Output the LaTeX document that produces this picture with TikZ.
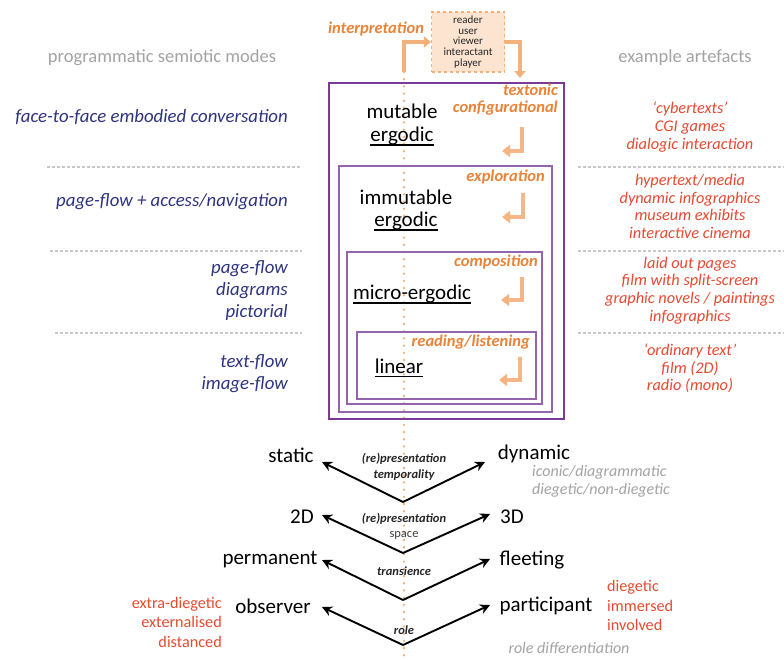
\documentclass[tikz,border=0pt]{standalone}
\usepackage{fontspec}
\setmainfont{Carlito}
\usetikzlibrary{arrows.meta}

\definecolor{boxpurple}{HTML}{7B3A96}
\definecolor{innerpurple}{HTML}{9464AE}
\definecolor{labelorange}{HTML}{E8843A}
\definecolor{arroworange}{HTML}{F4B07A}
\definecolor{modenavy}{HTML}{2F3480}
\definecolor{artred}{HTML}{E64A32}
\definecolor{headgray}{HTML}{A3A3A3}
\definecolor{sepgray}{HTML}{C8C8C8}
\definecolor{readerfill}{HTML}{FCE4D0}

\tikzset{
  header/.style={text=headgray, font=\fontsize{18.5}{20}\selectfont, inner sep=0},
  modetext/.style={text=modenavy, font=\fontsize{18.8}{22}\selectfont\itshape, align=right, anchor=east, inner sep=0},
  arttext/.style={text=artred, font=\fontsize{16.3}{17.6}\selectfont\itshape, align=center, inner sep=0},
  roletext/.style={text=artred, font=\fontsize{16.2}{19.5}\selectfont, inner sep=0},
  graynote/.style={text=headgray, font=\fontsize{16}{18}\selectfont\itshape, align=left, inner sep=0},
  separator/.style={draw=sepgray, line width=1.8pt, dash pattern=on 3pt off 2pt},
  levelbox/.style={draw=innerpurple, line width=1.4pt},
  outerbox/.style={draw=boxpurple, line width=2pt},
  levelname/.style={text=black, font=\fontsize{21}{24}\selectfont, inner sep=0},
  levellabel/.style={text=labelorange, font=\fontsize{16.5}{17}\selectfont\bfseries\itshape, align=right, anchor=east, inner sep=0},
  ulline/.style={line width=1.3pt, black},
  returnarrow/.style={draw=arroworange, opacity=0.9, line width=3.6pt, -{Triangle[length=8pt,width=12pt]}},
  flowarrow/.style={draw=arroworange, line width=3.6pt, -{Triangle[length=7pt,width=11pt]}},
  pole/.style={text=black, font=\fontsize{21}{24}\selectfont, inner sep=0},
  axislabel/.style={text=black!85, font=\fontsize{12.5}{15}\selectfont\bfseries\itshape, inner sep=0},
  axisplain/.style={text=black!75, font=\fontsize{12.5}{15}\selectfont, inner sep=0},
  polearrow/.style={draw=black, line width=1.9pt, -{Stealth[length=10pt,width=10pt]}},
  centreline/.style={draw=arroworange, line width=2.6pt, line cap=round, dash pattern=on 0pt off 7.2pt},
}

\begin{document}
\begin{tikzpicture}[x=1pt, y=-1pt]
  \useasboundingbox (0,0) rectangle (784,659);
  \fill[white] (0,0) rectangle (784,659);

  % column headings
  \node[header] (hleft) at (162,58) {programmatic semiotic modes};
  \node[header] (hright) at (685,58) {example artefacts};

  % central dotted axis
  \coordinate (axtop) at (404,72);
  \coordinate (axbot) at (404,659);
  \draw[centreline] (axtop) -- (axbot);

  % nested levels of ergodicity
  \draw[outerbox] (329,83) rectangle (564,419);
  \draw[levelbox] (339,166) rectangle (552,412);
  \draw[levelbox] (347,252) rectangle (542,404);
  \draw[levelbox] (357,332) rectangle (536,399);

  % reader and the interpretation loop
  \node[draw=arroworange, dashed, line width=1.2pt, fill=readerfill,
        minimum width=73pt, minimum height=60pt, inner sep=0,
        align=center, font=\fontsize{11}{10.8}\selectfont, text=black!85]
        (reader) at (468,42) {reader\\user\\viewer\\interactant\\player};
  \node[text=labelorange, font=\fontsize{16.5}{17}\selectfont\bfseries\itshape, inner sep=0]
        (interp) at (376,29) {interpretation};
  \coordinate (intoout) at (520,78);
  \draw[flowarrow] (axtop) |- (reader.west);
  \draw[flowarrow] (reader.east) -| (intoout);

  % level names
  \node[levelname] (mut) at (402,111) {mutable};
  \node[levelname] (erg1) at (402,136) {ergodic};
  \node[levelname] (immut) at (406,197) {immutable};
  \node[levelname] (erg2) at (406,221) {ergodic};
  \node[levelname] (micro) at (412,294) {micro-ergodic};
  \node[levelname] (lin) at (399,366) {linear};
  \foreach \w in {erg1,erg2,micro,lin}
    \draw[ulline] ([yshift=-3.5pt]\w.base west) -- ([yshift=-3.5pt]\w.base east);

  % level activities
  \node[levellabel] (texton) at (558,100) {textonic\\configurational};
  \node[levellabel] (explor) at (545,177) {exploration};
  \node[levellabel] (compos) at (538,262) {composition};
  \node[levellabel] (readl) at (530,342) {reading/listening};

  % return arrows
  \foreach \ax/\ay/\hy/\hx [count=\i] in {522/127/151/502, 523/193/217/502, 522/277/300/501, 520/357/380/499}{
    \coordinate (ret\i a) at (\ax,\ay);
    \coordinate (ret\i b) at (\hx,\hy);
    \draw[returnarrow] (ret\i a) |- (ret\i b);
  }

  % programmatic semiotic modes
  \node[modetext] (m1) at (288,117) {face-to-face embodied conversation};
  \node[modetext] (m2) at (288,202) {page-flow + access/navigation};
  \node[modetext] (m3) at (288,291) {page-flow\\diagrams\\pictorial};
  \node[modetext] (m4) at (288,374) {text-flow\\image-flow};

  % separators
  \foreach \y/\x in {167/47, 251/50, 333/55}{
    \coordinate (sl\y) at (\x,\y);
    \coordinate (sr\y) at (302,\y);
    \draw[separator] (sl\y) -- (sr\y);
    \coordinate (tl\y) at (578,\y);
    \coordinate (tr\y) at (784,\y);
    \draw[separator] (tl\y) -- (tr\y);
  }

  % example artefacts
  \node[arttext] (a1) at (690,127) {‘cybertexts’\\CGI games\\dialogic interaction};
  \node[arttext] (a2) at (690,206.5) {hypertext/media\\dynamic infographics\\museum exhibits\\interactive cinema};
  \node[arttext] (a3) at (690,290.5) {laid out pages\\film with split-screen\\graphic novels / paintings\\infographics};
  \node[arttext] (a4) at (690,368.5) {‘ordinary text’\\film (2D)\\radio (mono)};

  % dimensions of variation
  \node[pole] (static) at (291,455) {static};
  \node[pole] (dynamic) at (534,454) {dynamic};
  \node[axislabel] (rp1) at (404,459) {(re)presentation};
  \node[axislabel] (temp) at (404,475) {temporality};
  \node[graynote, anchor=west] (iconic) at (532,481) {iconic/diagrammatic\\diegetic/non-diegetic};
  \coordinate (v1) at (403,502);
  \coordinate (v1l) at (322,462);
  \coordinate (v1r) at (485,462);
  \draw[polearrow] (v1) -- (v1l);
  \draw[polearrow] (v1) -- (v1r);

  \node[pole] (twod) at (302,517) {2D};
  \node[pole] (threed) at (512,517) {3D};
  \node[axislabel] (rp2) at (404,519) {(re)presentation};
  \node[axisplain] (space) at (404,535) {space};
  \coordinate (v2) at (403,553);
  \coordinate (v2l) at (322,515);
  \coordinate (v2r) at (490,514);
  \draw[polearrow] (v2) -- (v2l);
  \draw[polearrow] (v2) -- (v2r);

  \node[pole] (perm) at (270,560) {permanent};
  \node[pole] (fleet) at (532,560) {fleeting};
  \node[axislabel] (trans) at (404,571) {transience};
  \coordinate (v3) at (403,600);
  \coordinate (v3l) at (322,560);
  \coordinate (v3r) at (490,559);
  \draw[polearrow] (v3) -- (v3l);
  \draw[polearrow] (v3) -- (v3r);

  \node[pole] (obs) at (273,606) {observer};
  \node[pole] (part) at (546,606) {participant};
  \node[axislabel] (role) at (404,630) {role};
  \coordinate (v4) at (403,645);
  \coordinate (v4l) at (322,607);
  \coordinate (v4r) at (490,605);
  \draw[polearrow] (v4) -- (v4l);
  \draw[polearrow] (v4) -- (v4r);

  \node[roletext, align=right, anchor=east] (extra) at (222,622) {extra-diegetic\\externalised\\distanced};
  \node[roletext, align=left, anchor=west] (dieg) at (607,605.5) {diegetic\\immersed\\involved};
  \node[graynote] (roled) at (569,648) {role differentiation};
\end{tikzpicture}
\end{document}
